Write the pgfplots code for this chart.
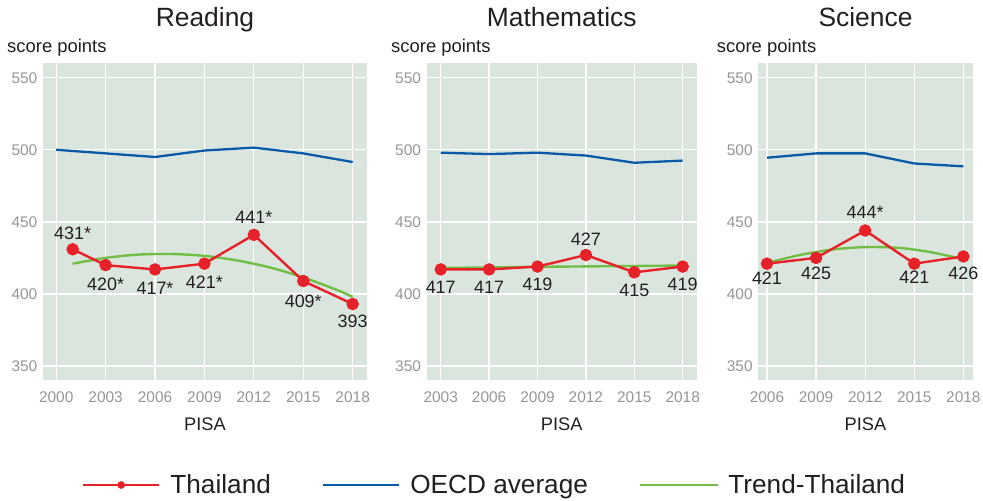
\documentclass[border=0pt]{standalone}
\usepackage{pgfplots}
\pgfplotsset{compat=1.18}
\usepackage{fontspec}
\setmainfont{Liberation Sans}
\definecolor{cBg}{RGB}{218,230,221}
\definecolor{cRed}{RGB}{230,33,42}
\definecolor{cBlue}{RGB}{10,90,166}
\definecolor{cGreen}{RGB}{114,189,69}
\definecolor{cTick}{RGB}{150,150,150}
\definecolor{cTxt}{RGB}{35,31,32}
\newcommand\fs[1]{\fontsize{#1}{#1}\selectfont}
\tikzset{lab/.style={font=\fs{18}, text=cTxt, inner sep=0pt, anchor=base}}
\pgfplotsset{
  panel/.style={
    scale only axis, height=317bp,
    ymin=340.3, ymax=560.2,
    ytick={350,400,450,500,550},
    axis background/.style={fill=cBg},
    axis line style={draw=none},
    major tick length=0pt,
    grid=major,
    major grid style={white, line width=1.3bp},
    /pgf/number format/1000 sep={},
    /pgf/number format/assume math mode=true,
    tick label style={font=\fs{15.5}, text=cTick},
    yticklabel style={anchor=east, inner sep=0pt, xshift=-5.5bp},
    xticklabel style={anchor=base, inner sep=0pt, yshift=-22.7bp},
    every axis title/.style={at={(0.5,1)}, anchor=base, yshift=37bp, font=\fs{26.5}, text=cTxt, inner sep=0pt},
    every axis x label/.style={at={(0.5,0)}, anchor=base, yshift=-50bp, font=\fs{18.3}, text=cTxt, inner sep=0pt},
    every axis y label/.style={at={(0,1)}, anchor=base west, yshift=11bp, font=\fs{18.5}, text=cTxt, inner sep=0pt},
    xlabel={PISA}, ylabel={score points},
    clip=false,
  },
  oecd/.style={cBlue, line width=2.3bp, no marks},
  trend/.style={cGreen, line width=2.4bp, no marks, smooth},
  thai/.style={cRed, line width=2.4bp, mark=*, mark size=5bp, mark options={fill=cRed, draw=none}},
}
\begin{document}
\begin{tikzpicture}
\useasboundingbox (0,0) rectangle (983bp,-501bp);
% ---------------- Reading
\begin{axis}[panel, at={(43bp,-380bp)}, anchor=south west, width=324bp,
  xmin=1999.2, xmax=2018.87, xtick={2000,2003,2006,2009,2012,2015,2018},
  title={Reading}, ylabel style={xshift=-36bp},
  legend style={at={(0.1204,-0.3312)}, anchor=west, draw=none, fill=none,
    inner sep=0pt, outer sep=0pt, font=\fs{26.3}, text=cTxt,
    nodes={inner sep=0pt}, legend cell align=left},
  legend columns=3]
\addplot[oecd, forget plot] coordinates {(2000,500) (2003,497.5) (2006,495) (2009,499.5) (2012,501.5) (2015,497.5) (2018,491.5)};
\addplot[trend, forget plot] coordinates {(2001,421) (2003,425) (2005,427.3) (2007,427.7) (2009,426.4) (2011,423.2) (2013,418.3) (2015,411.5) (2017,403) (2018,398)};
\addplot[thai, forget plot] coordinates {(2001,431) (2003,420) (2006,417) (2009,421) (2012,441) (2015,409) (2018,393)};
\addlegendimage{legend image code/.code={\draw[cRed, line width=2.4bp] (0bp,0bp) -- (76bp,0bp); \fill[cRed] (38bp,0bp) circle (3.6bp); \path (87bp,0bp);}}
\addlegendentry{Thailand\hspace*{51bp}}
\addlegendimage{legend image code/.code={\draw[cBlue, line width=2.4bp] (0bp,0bp) -- (76bp,0bp); \path (87bp,0bp);}}
\addlegendentry{OECD average\hspace*{51bp}}
\addlegendimage{legend image code/.code={\draw[cGreen, line width=2.4bp] (0bp,0bp) -- (78bp,0bp); \path (88bp,0bp);}}
\addlegendentry{Trend-Thailand}
\node[lab, yshift=10bp] at (axis cs:2001,431) {431*};
\node[lab, yshift=-25bp] at (axis cs:2003,420) {420*};
\node[lab, yshift=-25bp] at (axis cs:2006,417) {417*};
\node[lab, yshift=-25bp] at (axis cs:2009,421) {421*};
\node[lab, yshift=11.5bp] at (axis cs:2012,441) {441*};
\node[lab, yshift=-26.5bp] at (axis cs:2015,409) {409*};
\node[lab, yshift=-23bp] at (axis cs:2018,393) {393};
\end{axis}
% ---------------- Mathematics
\begin{axis}[panel, at={(426.7bp,-380bp)}, anchor=south west, width=270bp,
  xmin=2002.13, xmax=2018.87, xtick={2003,2006,2009,2012,2015,2018},
  title={Mathematics}, ylabel style={xshift=-35.7bp}]
\addplot[oecd] coordinates {(2003,498) (2006,497) (2009,498) (2012,496) (2015,491) (2018,492.5)};
\addplot[trend] coordinates {(2003,418) (2006,418.4) (2009,418.8) (2012,419.1) (2015,419.4) (2018,419.7)};
\addplot[thai] coordinates {(2003,417) (2006,417) (2009,419) (2012,427) (2015,415) (2018,419)};
\node[lab, yshift=-24bp] at (axis cs:2003,417) {417};
\node[lab, yshift=-24bp] at (axis cs:2006,417) {417};
\node[lab, yshift=-24bp] at (axis cs:2009,419) {419};
\node[lab, yshift=9.5bp] at (axis cs:2012,427) {427};
\node[lab, yshift=-24bp] at (axis cs:2015,415) {415};
\node[lab, yshift=-24bp] at (axis cs:2018,419) {419};
\end{axis}
% ---------------- Science
\begin{axis}[panel, at={(758.3bp,-380bp)}, anchor=south west, width=214.4bp,
  xmin=2005.47, xmax=2018.57, xtick={2006,2009,2012,2015,2018},
  title={Science}, ylabel style={xshift=-41.6bp}]
\addplot[oecd] coordinates {(2006,494.5) (2009,497.5) (2012,497.5) (2015,490.5) (2018,488.5)};
\addplot[trend] coordinates {(2006,421.5) (2008,427) (2010,430.8) (2012,432.5) (2014,432) (2016,429) (2018,424)};
\addplot[thai] coordinates {(2006,421) (2009,425) (2012,444) (2015,421) (2018,426)};
\node[lab, yshift=-21bp] at (axis cs:2006,421) {421};
\node[lab, yshift=-21.3bp] at (axis cs:2009,425) {425};
\node[lab, yshift=11.7bp] at (axis cs:2012,444) {444*};
\node[lab, yshift=-19.4bp] at (axis cs:2015,421) {421};
\node[lab, yshift=-23bp] at (axis cs:2018,426) {426};
\end{axis}
\end{tikzpicture}
\end{document}
